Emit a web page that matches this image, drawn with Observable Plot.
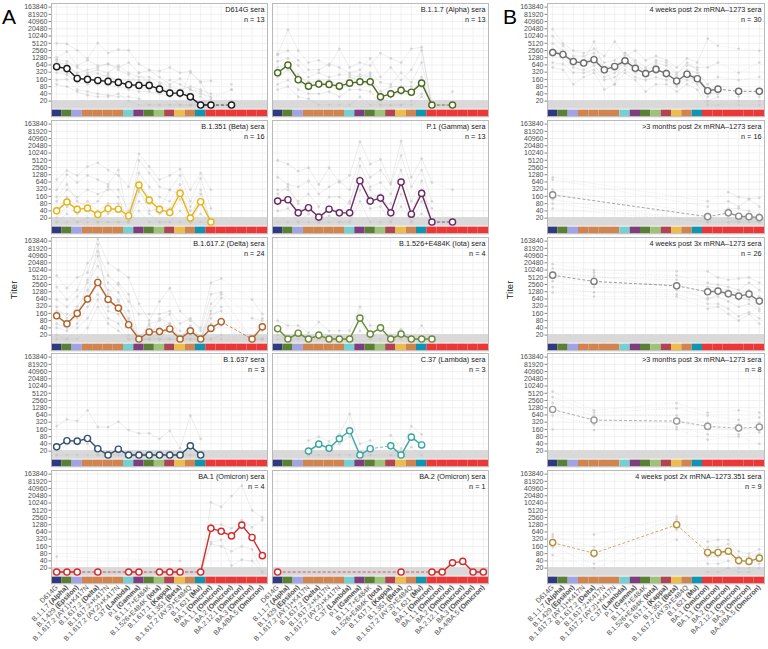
<!DOCTYPE html>
<html><head><meta charset="utf-8">
<script src="https://cdn.jsdelivr.net/npm/d3@7"></script>
<script src="https://cdn.jsdelivr.net/npm/@observablehq/plot@0.6"></script>
<style>
body{margin:0;background:#fff;}
#root{position:relative;width:768px;height:649px;overflow:hidden;font-family:"Liberation Sans",Arial,sans-serif;}
.lbl{position:absolute;color:#000;white-space:nowrap;}
</style></head><body><div id="root"></div>
<script>
const _ = null;
const L = 13.7; // below limit of detection (plotted under the 20 line)

const categories = ["D614G","B.1.1.7 (Alpha)","B.1.429 (Epsilon)","B.1.617.2 (AY.1)+K417N","B.1.617.2 (Delta)","B.1.617.2+K417N","B.1.617.2 (AY.2)+K417N","C.37 (Lambda)","P.1 (Gamma)","B.1.1.7+E484K","B.1.526+E484K (Iota)","B.1.617.1 (Kappa)","B.1.351 (Beta)","B.1.617.2 (AY.3)+E484Q","B.1.621 (Mu)","BA.1 (Omicron)","BA.1.1 (Omicron)","BA.2 (Omicron)","BA.2.12.1 (Omicron)","BA.3 (Omicron)","BA.4/BA.5 (Omicron)"];
const stripColors = ["#2f3a7e","#5b7f36","#a2a3e3","#d0844f","#d0844f","#d0844f","#d0844f","#78cfd0","#7d3e7d","#5b7f36","#9fc27a","#b04552","#ecbd4c","#d0844f","#1094b0","#ea3838","#ea3838","#ea3838","#ea3838","#ea3838","#ea3838"];
const yTicks = [20,40,80,160,320,640,1280,2560,5120,10240,20480,40960,81920,163840];

// ---- Panel A ----
const d614gIdx = [0,1,2,3,4,5,6,7,8,9,10,11,12,13,14,15,17];
const d614gMean = [540,450,175,160,145,132,120,96,90,90,63,43,43,30,L,L,L];
const d614gSera = [
 [5100,4800,2600,1200,5200,2000,2800,2600,700,400,350,500,300,350,130,140,100],
 [1300,2300,600,1000,600,700,500,800,300,380,200,100,170,60,40,30,60],
 [1100,900,500,300,400,300,600,300,200,200,120,80,60,80,60,40,20],
 [800,700,250,250,280,200,150,150,150,150,80,60,50,40,30,L,L],
 [300,250,120,100,100,90,80,60,50,50,40,30,L,L,L,L,L],
 [150,160,60,50,40,35,30,30,25,L,L,L,L,L,L,L,L],
 [100,80,50,35,30,30,40,20,L,L,L,L,L,L,L,L,L],
 [400,300,200,150,180,250,120,100,300,100,50,40,30,300,120,25,60],
 [1000,500,300,400,500,700,400,250,100,60,100,150,100,60,50,20,L]
];

const alphaIdx = [0,1,2,3,4,5,6,7,8,9,10,11,12,13,14,15,17];
const alphaMean = [302,630,155,84,102,99,84,112,127,127,30,40,56,47,112,L,L];
const alphaSera = [
 [1700,19000,2500,800,1000,600,3000,500,800,600,2000,1200,800,3000,3500,L,50],
 [1800,2500,1000,400,400,700,500,300,400,1200,200,500,150,400,2600,L,L],
 [900,1200,600,200,300,200,250,250,200,300,120,100,300,120,800,L,L],
 [500,700,250,100,150,150,100,150,250,200,50,80,80,80,200,L,L],
 [200,400,120,80,100,80,60,100,120,100,30,40,40,40,80,L,L],
 [100,150,60,40,40,50,30,60,60,50,L,L,L,20,40,L,L],
 [60,80,30,25,L,L,L,L,30,L,L,L,L,L,30,L,L],
 [350,600,200,130,120,110,90,200,150,250,20,30,60,50,150,L,L]
];

const betaIdx = [0,1,2,3,4,5,6,7,8,9,10,11,12,13,14,15];
const betaMean = [40,93,46,52,28,49,47,25,472,112,46,34,213,20,96,L];
const betaSera = [
 [800,1900,1200,2800,4000,2000,1200,400,9500,2800,800,1200,2200,300,1500,300],
 [300,1300,600,1200,800,500,2000,L,5000,1500,400,300,1200,100,900,50],
 [100,300,150,300,200,300,300,40,1500,400,150,100,500,60,300,L],
 [40,150,60,100,40,80,80,L,600,150,60,50,300,20,200,L],
 [20,60,30,40,L,30,40,L,250,80,30,30,120,L,80,L],
 [L,30,L,20,L,L,L,L,100,30,L,L,40,L,30,L],
 [L,L,L,L,L,L,L,L,40,L,L,L,L,L,L,L],
 [150,500,100,60,100,400,150,L,300,40,50,300,200,40,100,L]
];

const gammaIdx = [0,1,2,3,4,5,6,7,8,9,10,11,12,13,14,15,17];
const gammaMean = [102,116,33,54,22,47,33,33,716,102,136,33,630,29,213,L,L];
const gammaSera = [
 [5000,3500,1800,2500,500,2500,600,1200,30000,3500,5500,600,32000,1000,6000,600,300],
 [1000,500,400,700,200,400,700,300,6000,1000,2000,500,8000,400,2000,100,L],
 [300,300,100,200,60,150,150,80,3000,400,600,200,2000,100,700,L,L],
 [100,150,40,60,L,50,40,40,800,150,200,40,600,40,300,L,L],
 [40,50,L,30,L,25,L,L,300,50,60,L,200,L,100,L,L],
 [L,L,L,L,L,L,L,L,100,L,L,L,60,L,30,L,L],
 [200,400,80,40,L,60,30,100,1000,300,100,80,500,30,200,50,L]
];

const deltaIdx = [0,1,2,3,4,5,6,7,8,9,10,11,12,13,14,15,16,19,20];
const deltaMean = [127,59,160,630,3100,610,266,54,L,27,28,36,L,30,L,38,72,L,44];
const deltaSera = [
 [6000,1800,5000,8000,200000,20000,10000,5000,400,80,500,1800,200,80,40,3000,4500,600,150],
 [2000,600,1500,20000,60000,6000,2500,500,150,150,150,200,60,100,30,1000,1200,100,80],
 [600,300,800,3000,15000,3000,1200,200,L,60,80,150,L,50,L,400,1000,L,50],
 [300,100,300,1500,5000,1500,600,100,L,30,40,60,L,40,L,150,200,L,40],
 [100,60,200,600,2500,500,300,50,L,L,25,30,L,20,L,60,100,L,30],
 [40,30,60,300,1000,200,150,20,L,L,L,L,L,L,L,30,50,L,L],
 [20,L,40,100,600,100,60,L,L,L,L,L,L,L,L,L,20,L,L],
 [L,L,L,40,300,60,30,L,L,L,L,L,L,L,L,L,L,L,L],
 [200,150,100,4000,40000,1000,3000,1000,L,L,100,60,30,L,L,200,700,L,100],
 [60,40,150,800,120000,300,500,80,L,50,L,40,L,30,L,100,300,L,L]
];

const iotaIdx = [0,1,2,3,4,5,6,7,8,9,10,11,12,13,14,15];
const iotaMean = [37,L,24,L,20,L,L,L,102,22,40,L,22,L,L,L];
const iotaSera = [
 [80,50,50,25,70,30,30,30,300,50,50,20,35,L,50,L],
 [40,L,30,L,20,L,L,L,100,20,40,L,20,L,L,L],
 [20,L,20,L,L,L,L,L,80,L,30,L,20,L,L,L],
 [L,L,L,L,L,L,L,L,30,L,L,L,L,L,L,L]
];

const b1637Idx = [0,1,2,3,4,5,6,7,8,9,10,11,12,13,14];
const b1637Mean = [30,54,52,67,25,L,24,L,L,L,L,L,L,33,L];
const b1637Sera = [
 [220,420,360,1000,200,200,330,150,110,110,65,140,26,600,64],
 [L,40,40,40,L,L,L,L,L,L,L,L,L,L,L],
 [L,L,L,L,L,L,L,L,L,L,L,L,L,L,L]
];

const lambdaIdx = [3,4,5,6,7,8,9,11,12,13,14];
const lambdaMean = [20,39,26,65,140,L,25,33,L,76,36];
const lambdaSera = [
 [55,80,50,100,700,40,55,90,25,220,100],
 [L,40,30,40,80,L,L,L,L,100,40],
 [L,L,L,L,L,L,L,L,L,30,L]
];

const ba1Idx = [0,1,2,4,7,8,10,11,12,14,15,16,17,18,19,20];
const ba1Mean = [L,L,L,L,L,L,L,L,L,L,905,680,438,1236,375,66];
const ba1Sera = [
 [60,_,_,_,_,_,_,_,40,_,_,_,_,_,_,_],
 [L,L,L,L,L,L,L,L,L,L,10900,7000,20000,54000,5000,2560],
 [L,L,L,L,L,L,L,L,L,L,1280,1300,900,2000,1000,2000],
 [L,L,L,L,L,L,L,L,L,L,200,160,100,160,120,L],
 [L,L,L,L,L,L,L,L,L,L,240,300,25,45,40,L]
];

const ba2Idx = [0,12,15,16,17,18,19,20];
const ba2Mean = [L,L,L,L,33,38,L,L];
const ba2Sera = [];

// ---- Panel B ----
const m2wIdx = [0,1,2,3,4,5,6,7,8,9,10,11,12,13,14,15,16,18,20];
const m2wMean = [2100,1740,880,766,1055,402,554,948,464,281,417,281,137,262,170,54,63,51,51];
const m2wSera = [
 [20000,5000,2500,2000,3000,1500,6000,1500,2500,1000,1500,1000,500,1200,800,8000,4000,3000,2500],
 [10000,4000,1500,1500,2000,800,1000,2000,1000,500,1000,800,300,600,500,500,800,300,800],
 [5000,2500,1000,800,1500,500,600,1200,600,400,600,400,200,400,300,100,200,150,200],
 [2500,2000,700,600,1000,300,400,800,400,300,400,300,150,300,200,60,80,60,60],
 [1500,1200,500,400,600,200,300,600,300,200,300,200,100,200,150,40,40,30,30],
 [800,700,300,300,400,150,200,400,200,150,200,150,80,150,100,20,30,20,20],
 [500,400,100,200,300,60,100,300,150,50,100,100,50,100,60,L,L,L,L],
 [3000,1500,800,1000,6000,400,100,2000,800,300,800,600,250,800,400,30,60,40,50]
];

const m2mIdx = [0,15,17,18,19,20];
const m2mMean = [185,23,33,24,23,21];
const m2mSera = [
 [1000,100,240,150,130,140],
 [800,60,100,60,120,60],
 [300,30,50,50,40,30],
 [200,20,30,25,20,20],
 [120,L,20,L,30,L],
 [80,L,L,L,L,L],
 [50,L,L,L,L,L]
];

const m3wIdx = [0,4,12,15,16,17,18,19,20];
const m3wMean = [6260,3430,2260,1272,1355,1050,840,1020,520];
const m3wSera = [
 [18000,10000,9000,9000,5000,4000,4500,5000,3000],
 [12000,8000,6000,3000,2500,2000,1500,3000,1500],
 [8000,5000,4000,2000,1800,1500,1000,1500,800],
 [5000,3000,2500,1200,1200,800,600,800,400],
 [3500,2000,1500,700,800,500,300,400,200],
 [2000,1200,1000,400,400,250,120,180,100],
 [1200,800,800,250,300,150,80,150,60],
 [7000,6000,2000,600,1000,1200,700,600,250]
];

const m3mIdx = [0,4,12,15,18,20];
const m3mMean = [1084,390,355,213,181,200];
const m3mSera = [
 [6000,1000,2000,800,1000,800],
 [3500,800,1200,600,400,500],
 [2000,600,600,300,250,300],
 [1000,400,300,200,150,200],
 [600,250,200,100,100,120],
 [160,150,160,60,80,40]
];

const m351Idx = [0,4,12,15,16,17,18,19,20];
const m351Mean = [230,83,1280,89,89,101,41,38,52];
const m351Sera = [
 [500,500,2800,250,300,300,100,80,120],
 [400,150,2200,150,150,200,60,60,80],
 [300,100,1800,100,100,100,40,40,60],
 [200,60,1200,60,60,80,30,30,40],
 [150,30,800,30,30,40,20,20,30],
 [70,20,300,L,L,20,L,L,20]
];

const panels = [
 {title:"D614G sera", n:13, row:0, col:0, color:"#1c1c1c", idx:d614gIdx, mean:d614gMean, sera:d614gSera},
 {title:"B.1.1.7 (Alpha) sera", n:13, row:0, col:1, color:"#4d6b22", idx:alphaIdx, mean:alphaMean, sera:alphaSera},
 {title:"B.1.351 (Beta) sera", n:16, row:1, col:0, color:"#e6b413", idx:betaIdx, mean:betaMean, sera:betaSera},
 {title:"P.1 (Gamma) sera", n:13, row:1, col:1, color:"#6a2a62", idx:gammaIdx, mean:gammaMean, sera:gammaSera},
 {title:"B.1.617.2 (Delta) sera", n:24, row:2, col:0, color:"#b1622a", idx:deltaIdx, mean:deltaMean, sera:deltaSera},
 {title:"B.1.526+E484K (Iota) sera", n:4, row:2, col:1, color:"#6b8a3a", idx:iotaIdx, mean:iotaMean, sera:iotaSera},
 {title:"B.1.637 sera", n:3, row:3, col:0, color:"#33506e", idx:b1637Idx, mean:b1637Mean, sera:b1637Sera},
 {title:"C.37 (Lambda) sera", n:3, row:3, col:1, color:"#3aa7a0", idx:lambdaIdx, mean:lambdaMean, sera:lambdaSera},
 {title:"BA.1 (Omicron) sera", n:4, row:4, col:0, color:"#d42a2a", idx:ba1Idx, mean:ba1Mean, sera:ba1Sera},
 {title:"BA.2 (Omicron) sera", n:1, row:4, col:1, color:"#d42a2a", idx:ba2Idx, mean:ba2Mean, sera:ba2Sera},
 {title:"4 weeks post 2x mRNA\u20131273 sera", n:30, row:0, col:2, color:"#6e6e6e", idx:m2wIdx, mean:m2wMean, sera:m2wSera},
 {title:">3 months post 2x mRNA\u20131273 sera", n:16, row:1, col:2, color:"#8c8c8c", idx:m2mIdx, mean:m2mMean, sera:m2mSera},
 {title:"4 weeks post 3x mRNA\u20131273 sera", n:26, row:2, col:2, color:"#7c7c7c", idx:m3wIdx, mean:m3wMean, sera:m3wSera},
 {title:">3 months post 3x mRNA\u20131273 sera", n:8, row:3, col:2, color:"#9a9a9a", idx:m3mIdx, mean:m3mMean, sera:m3mSera},
 {title:"4 weeks post 2x mRNA\u20131273.351 sera", n:9, row:4, col:2, color:"#b38f3a", idx:m351Idx, mean:m351Mean, sera:m351Sera}
];

// ---- layout ----
const colX = [51, 272, 547], colW = [216, 216, 217];
const rowY = [3.3, 119.9, 236.5, 353.1, 469.7];
const PH = 113.3;              // panel height incl. strip
const DBL = 94 / 13;           // px per doubling
const Y20 = 97.6;              // px from top to 20 line
const v = px => 20 * Math.pow(2, (Y20 - px) / DBL);
const yMax = v(0), yMin = v(PH), stripTop = v(106.6), bandLo = v(105.7), bandHi = v(97.1);

const root = document.getElementById("root");

function runs(pts, id) {
  let r = 0;
  return pts.map((d, i) => { if (i > 0 && d.k !== pts[i-1].k + 1) r++; return {...d, z: id + "-" + r}; });
}
function gaps(pts) {
  const g = [];
  for (let i = 0; i < pts.length - 1; i++)
    if (pts[i+1].k !== pts[i].k + 1) g.push({x1: pts[i].k, y1: pts[i].v, x2: pts[i+1].k, y2: pts[i+1].v});
  return g;
}

panels.forEach(p => {
  const ml = p.col === 1 ? 1 : 48, mr = 1, mt = 1, mb = p.row === 4 ? 72 : 1;
  const w = colW[p.col];
  const meanPts = p.idx.map((k, i) => ({k, v: p.mean[i]}));
  const seraPts = p.sera.map(s => p.idx.map((k, i) => ({k, v: s[i]})).filter(d => d.v != null));
  const seraLines = seraPts.flatMap((pts, j) => runs(pts, "s" + j));
  const seraGaps = seraPts.flatMap(gaps);
  const seraDots = seraPts.flat();
  const meanLines = runs(meanPts, "m");
  const meanGaps = gaps(meanPts);
  const tickLen = 2.5 * 21 / w;
  const yAxisMarks = p.col === 1 ? [] : [
    Plot.ruleY(yTicks, {x1: -0.5 - tickLen, x2: -0.5, stroke: "#333", strokeWidth: 0.6}),
    Plot.text(yTicks, {y: d => d, text: d => String(d), frameAnchor: "left", textAnchor: "end", dx: -4, fontSize: 7, fill: "#4d4d4d"})
  ];
  const svg = Plot.plot({
    width: ml + w + mr, height: mt + PH + mb,
    marginLeft: ml, marginRight: mr, marginTop: mt, marginBottom: mb,
    x: {type: "linear", domain: [-0.5, 20.5], axis: p.row === 4 ? "bottom" : null,
        ticks: d3.range(21), tickFormat: i => categories[i], tickRotate: -45, tickSize: 0, tickPadding: 2.5, label: null},
    y: {type: "log", domain: [yMin, yMax], axis: null},
    color: {type: "identity"},
    style: {fontFamily: "'Liberation Sans', Arial, sans-serif", fontSize: "7px", color: "#4d4d4d", overflow: "visible", background: "none"},
    marks: [
      Plot.gridX(d3.range(21), {stroke: "#ebebeb", strokeOpacity: 1, strokeWidth: 0.7}),
      Plot.gridY(yTicks, {stroke: "#ebebeb", strokeOpacity: 1, strokeWidth: 0.7}),
      Plot.rect([0], {x1: -0.5, x2: 20.5, y1: bandLo, y2: bandHi, fill: "#d9d9d9"}),
      Plot.rect(d3.range(21), {x1: i => i - 0.5, x2: i => i + 0.5, y1: yMin, y2: stripTop, fill: i => stripColors[i]}),
      Plot.line(seraLines, {x: "k", y: "v", z: "z", stroke: "#c2c2c2", strokeOpacity: 0.5, strokeWidth: 0.6}),
      Plot.link(seraGaps, {x1: "x1", y1: "y1", x2: "x2", y2: "y2", stroke: "#c2c2c2", strokeOpacity: 0.5, strokeWidth: 0.6, strokeDasharray: "1.2,1.5"}),
      Plot.dot(seraDots, {x: "k", y: "v", r: 1.4, fill: "#c4c4c4", fillOpacity: 0.6}),
      ...yAxisMarks,
      Plot.link(meanGaps, {x1: "x1", y1: "y1", x2: "x2", y2: "y2", stroke: p.color, strokeOpacity: 0.75, strokeWidth: 1, strokeDasharray: "3,2"}),
      Plot.line(meanLines, {x: "k", y: "v", z: "z", stroke: p.color, strokeWidth: 1.4}),
      Plot.dot(meanPts, {x: "k", y: "v", r: 3.1, fill: "white", stroke: p.color, strokeWidth: 1.4}),
      Plot.text([p.title], {text: d => d, frameAnchor: "top-right", textAnchor: "end", lineAnchor: "middle", dx: -3, dy: 6.6, fontSize: 7.3, fill: "#1a1a1a"}),
      Plot.text(["n = " + p.n], {text: d => d, frameAnchor: "top-right", textAnchor: "end", lineAnchor: "middle", dx: -3, dy: 16.4, fontSize: 7.3, fill: "#1a1a1a"}),
      Plot.frame({stroke: "#b3b3b3", strokeWidth: 0.9})
    ]
  });
  // bold variant names in x labels
  const catSet = new Set(categories);
  d3.select(svg).selectAll("text").each(function() {
    const t = this.textContent;
    if (!catSet.has(t)) return;
    const m = t.match(/^(.*?)(\((?:Alpha|Epsilon|Delta|Lambda|Gamma|Iota|Kappa|Beta|Mu|Omicron)\))(.*)$/);
    if (!m) return;
    const sel = d3.select(this);
    sel.text(null);
    sel.append("tspan").text(m[1]);
    sel.append("tspan").attr("font-weight", "bold").text(m[2]);
    if (m[3]) sel.append("tspan").text(m[3]);
  });
  svg.style.position = "absolute";
  svg.style.left = (colX[p.col] - ml) + "px";
  svg.style.top = (rowY[p.row] - mt) + "px";
  root.appendChild(svg);
});

function addLabel(text, left, top, css) {
  const d = document.createElement("div");
  d.className = "lbl";
  d.textContent = text;
  d.style.left = left + "px";
  d.style.top = top + "px";
  Object.assign(d.style, css || {});
  root.appendChild(d);
  return d;
}
addLabel("A", 2, 6, {fontSize: "21px", lineHeight: "21px"});
addLabel("B", 503, 6, {fontSize: "21px", lineHeight: "21px"});
addLabel("Titer", 14, 290, {fontSize: "9.5px", lineHeight: "10px", transform: "translate(-50%,-50%) rotate(-90deg)", color: "#1a1a1a"});
addLabel("Titer", 510, 290, {fontSize: "9.5px", lineHeight: "10px", transform: "translate(-50%,-50%) rotate(-90deg)", color: "#1a1a1a"});
</script>
</body></html>
